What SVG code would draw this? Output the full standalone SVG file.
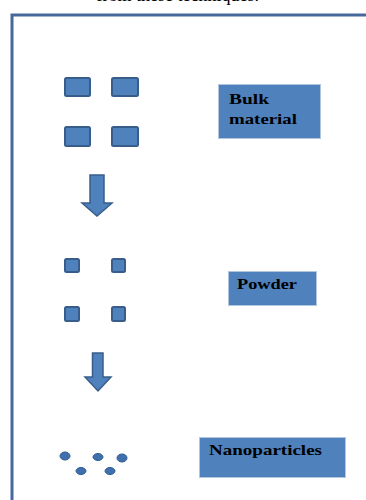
<svg xmlns="http://www.w3.org/2000/svg" width="366" height="500" viewBox="0 0 366 500">
<style>
.frame{fill:none;stroke:#46699c;stroke-width:3}
.sq{fill:#4f81bd;stroke:#385d8a;stroke-width:2}
.dot{fill:#3f70ad;stroke:#2f5c93;stroke-width:1}
.box{fill:#4f81bd;stroke:#b3c6e0;stroke-width:1}
.lbl{font-family:"Liberation Serif",serif;font-weight:bold;font-size:15px;fill:#000}
.arr{fill:#4f81bd;stroke:#385d8a;stroke-width:1.5;stroke-linejoin:miter}
.cap{font-family:"Liberation Serif",serif;font-size:18px;fill:#000}
</style>
<rect width="366" height="500" fill="#fff"/>
<text class="cap" x="259" y="1" text-anchor="end">from these techniques.</text>
<path class="frame" d="M12 500 V15 H366"/>

<g id="bulk">
<rect class="sq" x="65" y="78" width="25" height="18" rx="1.5"/>
<rect class="sq" x="112" y="78" width="26" height="18" rx="1.5"/>
<rect class="sq" x="65" y="127" width="25" height="19" rx="1.5"/>
<rect class="sq" x="112" y="127" width="26" height="19" rx="1.5"/>
</g>
<g id="bulk-label">
<rect class="box" x="218.5" y="84.5" width="102" height="54"/>
<text class="lbl" x="229" y="104" textLength="40" lengthAdjust="spacingAndGlyphs">Bulk</text>
<text class="lbl" x="229" y="124" textLength="68" lengthAdjust="spacingAndGlyphs">material</text>
</g>

<g id="powder">
<rect class="sq" x="65" y="259" width="14" height="13" rx="1.5"/>
<rect class="sq" x="112" y="259" width="13" height="13" rx="1.5"/>
<rect class="sq" x="65" y="307" width="14" height="14" rx="1.5"/>
<rect class="sq" x="112" y="307" width="13" height="14" rx="1.5"/>
</g>
<g id="powder-label">
<rect class="box" x="228.5" y="271.5" width="88" height="34"/>
<text class="lbl" x="237" y="289" textLength="60" lengthAdjust="spacingAndGlyphs">Powder</text>
</g>

<g id="nanoparticles">
<ellipse class="dot" cx="65" cy="456" rx="5" ry="4"/>
<ellipse class="dot" cx="98" cy="457" rx="5" ry="3.5"/>
<ellipse class="dot" cx="122" cy="458" rx="5" ry="4"/>
<ellipse class="dot" cx="81" cy="471" rx="5" ry="3.5"/>
<ellipse class="dot" cx="110" cy="471" rx="5" ry="3.5"/>
</g>
<g id="nano-label">
<rect class="box" x="199.5" y="437.5" width="146" height="40"/>
<text class="lbl" x="209" y="455" textLength="113" lengthAdjust="spacingAndGlyphs">Nanoparticles</text>
</g>

<g id="connectors">
<path class="arr" d="M90 175 H104 V203 H112 L97 216 L82 203 H90 Z"/>
<path class="arr" d="M92.5 353 H103 V377 H111 L98 391 L85 377 H92.5 Z"/>
</g>
</svg>
